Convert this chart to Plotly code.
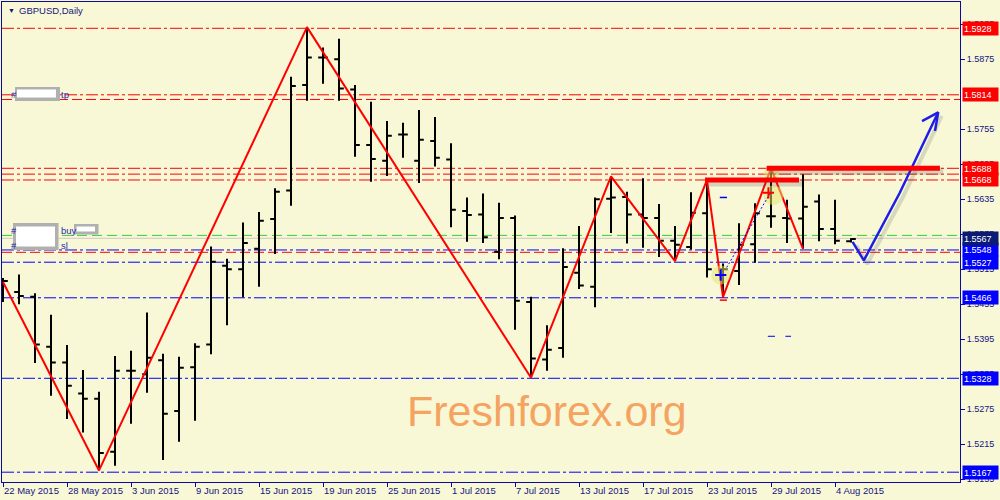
import plotly.graph_objects as go

# ---------------- data ----------------
dates = ["22 May", "25 May", "26 May", "27 May", "28 May", "29 May",
         "1 Jun", "2 Jun", "3 Jun", "4 Jun", "5 Jun", "8 Jun", "9 Jun", "10 Jun",
         "11 Jun", "12 Jun", "15 Jun", "16 Jun", "17 Jun", "18 Jun", "19 Jun",
         "22 Jun", "23 Jun", "24 Jun", "25 Jun", "26 Jun", "29 Jun", "30 Jun",
         "1 Jul", "2 Jul", "3 Jul", "6 Jul", "7 Jul", "8 Jul", "9 Jul", "10 Jul",
         "13 Jul", "14 Jul", "15 Jul", "16 Jul", "17 Jul", "20 Jul", "21 Jul",
         "22 Jul", "23 Jul", "24 Jul", "27 Jul", "28 Jul", "29 Jul", "30 Jul",
         "31 Jul", "3 Aug", "4 Aug", "5 Aug"]

opens = [1.5486, 1.5476, 1.5468, 1.5382, 1.5355, 1.5302, 1.5293, 1.5202, 1.5341, 1.5335,
         1.5359, 1.5272, 1.5347, 1.5386, 1.5521, 1.5515, 1.5550, 1.5601, 1.5650, 1.5831,
         1.5878, 1.5875, 1.5823, 1.5728, 1.5701, 1.5746, 1.5701, 1.5735, 1.5703, 1.5615,
         1.5609, 1.5545, 1.5603, 1.5459, 1.5360, 1.5380, 1.5509, 1.5485, 1.5636, 1.5639,
         1.5609, 1.5603, 1.5564, 1.5553, 1.5611, 1.5515, 1.5512, 1.5558, 1.5606, 1.5603,
         1.5602, 1.5631, 1.5584, 1.5563]
highs = [1.5500, 1.5506, 1.5474, 1.5437, 1.5385, 1.5342, 1.5305, 1.5366, 1.5375, 1.5441,
         1.5370, 1.5365, 1.5388, 1.5554, 1.5533, 1.5595, 1.5613, 1.5654, 1.5845, 1.5930,
         1.5895, 1.5910, 1.5831, 1.5802, 1.5769, 1.5766, 1.5788, 1.5776, 1.5731, 1.5638,
         1.5645, 1.5629, 1.5607, 1.5468, 1.5419, 1.5551, 1.5589, 1.5638, 1.5674, 1.5648,
         1.5671, 1.5627, 1.5589, 1.5647, 1.5668, 1.5525, 1.5594, 1.5628, 1.5688, 1.5634,
         1.5678, 1.5643, 1.5634, 1.5568]
lows = [1.5459, 1.5455, 1.5354, 1.5298, 1.5258, 1.5235, 1.5170, 1.5178, 1.5250, 1.5303,
        1.5188, 1.5219, 1.5255, 1.5369, 1.5419, 1.5467, 1.5485, 1.5541, 1.5624, 1.5804,
        1.5833, 1.5804, 1.5708, 1.5665, 1.5675, 1.5706, 1.5663, 1.5691, 1.5587, 1.5562,
        1.5560, 1.5532, 1.5411, 1.5329, 1.5341, 1.5363, 1.5481, 1.5450, 1.5577, 1.5559,
        1.5552, 1.5536, 1.5529, 1.5549, 1.5501, 1.5467, 1.5488, 1.5526, 1.5586, 1.5560,
        1.5550, 1.5563, 1.5558, 1.5561]
closes = [1.5495, 1.5469, 1.5386, 1.5355, 1.5315, 1.5293, 1.5200, 1.5341, 1.5341, 1.5363,
          1.5267, 1.5346, 1.5382, 1.5528, 1.5515, 1.5560, 1.5598, 1.5648, 1.5829, 1.5878,
          1.5878, 1.5825, 1.5728, 1.5704, 1.5744, 1.5746, 1.5737, 1.5706, 1.5617, 1.5608,
          1.5570, 1.5603, 1.5461, 1.5362, 1.5377, 1.5519, 1.5487, 1.5635, 1.5638, 1.5609,
          1.5603, 1.5564, 1.5557, 1.5612, 1.5515, 1.5515, 1.5557, 1.5611, 1.5606, 1.5602,
          1.5622, 1.5584, 1.5564, 1.5567]

tick_idx = [0, 4, 8, 12, 16, 20, 24, 28, 32, 36, 40, 44, 48, 52]
price_ticks = [1.5155, 1.5215, 1.5275, 1.5335, 1.5395, 1.5455, 1.5515, 1.5575,
               1.5635, 1.5695, 1.5755, 1.5875, 1.5935]

zigzag_idx = [0, 6, 19, 33, 38, 42, 44, 45, 48, 50]
zigzag_price = [1.5493, 1.5170, 1.5930, 1.5329, 1.5674, 1.5529, 1.5668, 1.5467, 1.5688, 1.5550]

red_levels = [1.5928, 1.5814, 1.5688, 1.5678, 1.5668]
blue_levels = [1.5548, 1.5527, 1.5466, 1.5328, 1.5167]
red_labels = [1.5928, 1.5814, 1.5688, 1.5668]
blue_labels = [1.5548, 1.5527, 1.5466, 1.5328, 1.5167]
bid_price = 1.5567
bid_line = 1.5568
order_open = 1.5573
order_tp = 1.5806
order_sl = 1.5544

resist_start = [43.875, 47.73]
resist_end = [49.75, 58.56]
resist_price = [1.5668, 1.5688]

forecast_idx = [53.10, 53.80, 56.05, 58.45]
forecast_price = [1.5562, 1.5530, 1.5646, 1.5784]
arrowhead_idx = [57.44, 58.45, 58.25]
arrowhead_price = [1.5769, 1.5784, 1.5752]

trade_line_idx = [45.23, 47.94]
trade_line_price = [1.5518, 1.5645]
highlight_idx = [44.86, 48.14, 48.04]
highlight_price = [1.5505, 1.5642, 1.5680]

# ---------------- style ----------------
W, H = 1000, 500
L, R, T, B = 2, 40, 2, 18
PW, PH = W - L - R, H - T - B
BG = "#F8F8D6"
AXIS = "#0A0AA0"
TXT = "#14147F"
FONT = "Liberation Sans"
DASHDOT = "12px,3px,3px,3px"
X_RANGE = [-0.0625, 59.8125]
Y_RANGE = [1.51502, 1.59731]


def xp(px):
    return (px - L) / PW


def yp(py):
    return (H - B - py) / PH


n = len(dates)
xs = list(range(n))

fig = go.Figure()

fig.add_trace(go.Ohlc(
    x=xs, open=opens, high=highs, low=lows, close=closes,
    increasing=dict(line=dict(color="black", width=2)),
    decreasing=dict(line=dict(color="black", width=2)),
    tickwidth=0.3, hoverinfo="none", showlegend=False))

fig.add_trace(go.Scatter(x=zigzag_idx, y=zigzag_price, mode="lines",
                         line=dict(color="#FF0000", width=2), hoverinfo="none", showlegend=False))

# highlight circles and trade marks
fig.add_trace(go.Scatter(x=highlight_idx, y=highlight_price, mode="markers",
                         marker=dict(size=[19, 20, 15], color="rgba(228,228,110,0.75)",
                                     line=dict(width=0)),
                         hoverinfo="none", showlegend=False))
fig.add_trace(go.Scatter(x=trade_line_idx, y=trade_line_price, mode="lines",
                         line=dict(color="#0000FF", width=1, dash="2px,2px"),
                         hoverinfo="none", showlegend=False))
fig.add_trace(go.Scatter(x=[highlight_idx[0]], y=[highlight_price[0]], mode="markers",
                         marker=dict(symbol="cross-thin", size=8, line=dict(color="#0000FF", width=2)),
                         hoverinfo="none", showlegend=False))
fig.add_trace(go.Scatter(x=[highlight_idx[1] - 0.3], y=[highlight_price[1] + 0.0004], mode="markers",
                         marker=dict(symbol="cross-thin", size=8, line=dict(color="#FF0000", width=2)),
                         hoverinfo="none", showlegend=False))

# forecast arrow with soft shadow
sx, sy = 0.22, -0.0006
fig.add_trace(go.Scatter(x=[v + sx for v in forecast_idx], y=[v + sy for v in forecast_price],
                         mode="lines", line=dict(color="rgba(90,90,90,0.2)", width=4),
                         hoverinfo="none", showlegend=False))
fig.add_trace(go.Scatter(x=forecast_idx, y=forecast_price, mode="lines",
                         line=dict(color="#1E1EE6", width=2.5), hoverinfo="none", showlegend=False))
fig.add_trace(go.Scatter(x=arrowhead_idx, y=arrowhead_price, mode="lines",
                         line=dict(color="#1E1EE6", width=2.5), hoverinfo="none", showlegend=False))

shapes = []


def hline(price, color, dash, width=1):
    shapes.append(dict(type="line", xref="paper", x0=0, x1=1, yref="y", y0=price, y1=price,
                       line=dict(color=color, width=width, dash=dash), layer="below"))


for v in red_levels:
    hline(v, "#FF0000", DASHDOT)
for v in blue_levels:
    hline(v, "#0000FF", DASHDOT)
hline(order_tp, "#FF0000", "10px,4px")
hline(order_sl, "#FF0000", "10px,4px")
hline(order_open, "#32CD32", "10px,5px")
hline(bid_line, "#C8C8C8", "solid")

# thick resistance lines with shadow
for a, b, p in zip(resist_start, resist_end, resist_price):
    shapes.append(dict(type="line", xref="x", yref="y", x0=a + 0.2, x1=b + 0.2,
                       y0=p - 0.0005, y1=p - 0.0005,
                       line=dict(color="rgba(80,80,80,0.22)", width=7)))
    shapes.append(dict(type="line", xref="x", yref="y", x0=a, x1=b, y0=p, y1=p,
                       line=dict(color="#FF0000", width=5)))

# small order marks
shapes.append(dict(type="line", xref="x", yref="y", x0=44.8, x1=45.25, y0=1.5638, y1=1.5638,
                   line=dict(color="#0000FF", width=1.5)))
shapes.append(dict(type="line", xref="x", yref="y", x0=44.8, x1=45.25, y0=1.5462, y1=1.5462,
                   line=dict(color="#FF0000", width=1.5)))
for a, b in [(47.8, 48.25), (48.9, 49.25)]:
    shapes.append(dict(type="line", xref="x", yref="y", x0=a, x1=b, y0=1.5400, y1=1.5400,
                       line=dict(color="#0000FF", width=1)))

# blurred (hidden) order boxes on the left
def box(x0, y0, x1, y1, gx0, gy0, gx1, gy1):
    shapes.append(dict(type="rect", xref="paper", yref="paper",
                       x0=xp(gx0), x1=xp(gx1), y0=yp(gy1), y1=yp(gy0),
                       fillcolor="#B0B0B0", line=dict(width=0)))
    shapes.append(dict(type="rect", xref="paper", yref="paper",
                       x0=xp(x0), x1=xp(x1), y0=yp(y1), y1=yp(y0),
                       fillcolor="#FFFFFF", line=dict(width=0)))


box(17, 89.5, 56, 97.5, 15, 87, 60, 101)
box(16, 226.5, 55, 246.5, 13, 223, 58.5, 250)
box(76.5, 226.5, 95, 231.5, 74, 224, 98.5, 234.5)

annotations = []


def label(x, y, text, color=TXT, size=9.5, anchor="left"):
    annotations.append(dict(xref="paper", yref="paper", x=xp(x), y=yp(y), text=text,
                            showarrow=False, xanchor=anchor, yanchor="middle",
                            font=dict(family=FONT, size=size, color=color)))


label(5.5, 10, "▼", size=7)
label(17, 10, "GBPUSD,Daily")
label(9, 95, "#", color="#2A2AB0")
label(58.5, 95, "tp", color="#2A2AB0")
label(9, 230, "#", color="#2A2AB0")
label(58.5, 230, "buy", color="#2A2AB0")
label(9, 245.5, "#", color="#2A2AB0")
label(58.5, 245.5, "sl", color="#2A2AB0")

annotations.append(dict(xref="paper", yref="paper", x=xp(546.5), y=yp(411), text="Freshforex.org",
                        showarrow=False, xanchor="center", yanchor="middle",
                        font=dict(family=FONT, size=43, color="#F4A460")))


def level_box(v, col):
    annotations.append(dict(xref="paper", x=1, xanchor="left", xshift=2, yref="y", y=v,
                            yanchor="middle", text=f"{v:.4f}", showarrow=False, bgcolor=col,
                            font=dict(family=FONT, size=9, color="white"), width=33, height=11,
                            borderpad=1, align="left"))


for v in red_labels:
    level_box(v, "#FF0000")
for v in blue_labels:
    level_box(v, "#0000FF")
level_box(bid_price, "#0B1A73")

fig.update_layout(
    width=W, height=H,
    margin=dict(l=L, r=R, t=T, b=B),
    paper_bgcolor=BG, plot_bgcolor=BG,
    showlegend=False,
    shapes=shapes, annotations=annotations,
    font=dict(family=FONT, size=9.5, color=TXT),
    xaxis=dict(range=X_RANGE, tickvals=tick_idx,
               ticktext=[f"{dates[i]} 2015" for i in tick_idx],
               ticks="outside", ticklen=4, tickcolor=AXIS, ticklabelposition="outside right",
               showgrid=False, zeroline=False, showline=True, linecolor=AXIS, linewidth=1,
               mirror=True, rangeslider=dict(visible=False),
               tickfont=dict(family=FONT, size=9.5, color=TXT)),
    yaxis=dict(range=Y_RANGE, side="right", tickvals=price_ticks,
               ticktext=[f"{v:.4f}" for v in price_ticks],
               ticks="outside", ticklen=4, tickcolor=AXIS,
               showgrid=False, zeroline=False, showline=True, linecolor=AXIS, linewidth=1,
               mirror=True, tickfont=dict(family=FONT, size=9, color=TXT)),
)

fig.write_html("out.html", config={"displayModeBar": False},
               post_script="document.body.style.margin='0';document.body.style.background='%s';" % BG)
